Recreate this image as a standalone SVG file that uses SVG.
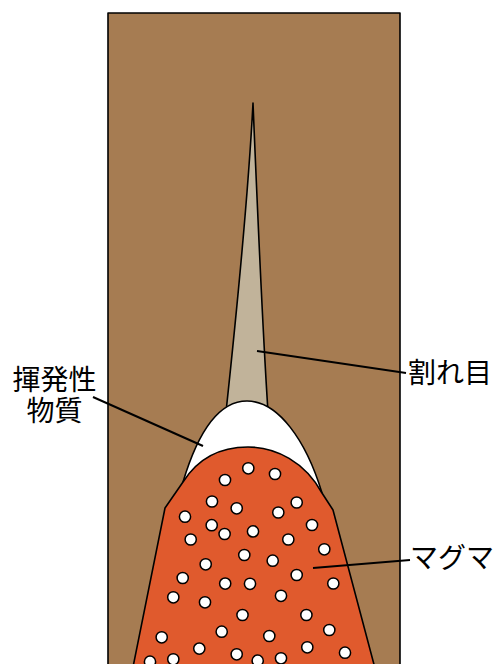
<svg xmlns="http://www.w3.org/2000/svg" width="497" height="664" viewBox="0 0 497 664">
  <style>
    .outline { stroke: #000; stroke-width: 1.6; stroke-linejoin: round; }
    .leader { stroke: #000; stroke-width: 2; fill: none; }
    .bubble { fill: #fff; stroke: #000; stroke-width: 1.5; }
    .label { font-family: "Noto Sans CJK JP", "Noto Sans", sans-serif; font-size: 28px; fill: #000; }
  </style>
  <defs>
    <circle id="b" r="5.6" class="bubble"/>
  </defs>

  <rect width="497" height="664" fill="#fff"/>

  <!-- bedrock -->
  <g id="rock">
    <rect x="108" y="13" width="292" height="660" fill="#a67c52" class="outline"/>
  </g>

  <!-- crack rising from the dome -->
  <g id="crack">
    <path d="M253,103 C249,180 238,300 226,412 L268,412 C262,320 257,200 253,103 Z" fill="#c1b39a" class="outline"/>
  </g>

  <!-- volatile cap above magma -->
  <g id="volatile">
    <path d="M183,482 C198,432 218,401 247,401 C278,401 306,440 322,493 Z" fill="#fff" class="outline"/>
  </g>

  <!-- magma body -->
  <g id="magma">
    <path d="M183,482 C200,455 224,447 248,447 C276,447 305,462 322,493 L333,510 L376,672 L132,672 L165,508 Z" fill="#e05a2d" class="outline"/>
    <g id="bubbles">
      <use href="#b" x="248.3" y="468.3"/>
      <use href="#b" x="275" y="474"/>
      <use href="#b" x="225" y="480"/>
      <use href="#b" x="212" y="501.5"/>
      <use href="#b" x="236.7" y="508.3"/>
      <use href="#b" x="296.7" y="502.5"/>
      <use href="#b" x="278.3" y="512.5"/>
      <use href="#b" x="185" y="516.7"/>
      <use href="#b" x="211.7" y="525.2"/>
      <use href="#b" x="224.6" y="534"/>
      <use href="#b" x="253" y="531.4"/>
      <use href="#b" x="312" y="525"/>
      <use href="#b" x="190.7" y="539.5"/>
      <use href="#b" x="288.3" y="539.5"/>
      <use href="#b" x="324.3" y="549.3"/>
      <use href="#b" x="244.3" y="555"/>
      <use href="#b" x="272.7" y="560.7"/>
      <use href="#b" x="205.7" y="564.3"/>
      <use href="#b" x="182.7" y="578"/>
      <use href="#b" x="296.7" y="575"/>
      <use href="#b" x="225.2" y="583.6"/>
      <use href="#b" x="250" y="583.8"/>
      <use href="#b" x="333.3" y="583.5"/>
      <use href="#b" x="173.3" y="597.3"/>
      <use href="#b" x="205" y="602.3"/>
      <use href="#b" x="281" y="595.8"/>
      <use href="#b" x="242.5" y="615"/>
      <use href="#b" x="306.4" y="615"/>
      <use href="#b" x="221.7" y="631.7"/>
      <use href="#b" x="329.3" y="630"/>
      <use href="#b" x="161.7" y="637.3"/>
      <use href="#b" x="269.3" y="636"/>
      <use href="#b" x="199.3" y="648.6"/>
      <use href="#b" x="307.3" y="647.3"/>
      <use href="#b" x="236.7" y="654.3"/>
      <use href="#b" x="345" y="652.7"/>
      <use href="#b" x="150" y="661.7"/>
      <use href="#b" x="173.3" y="659.3"/>
      <use href="#b" x="257.7" y="660.7"/>
      <use href="#b" x="281" y="658.3"/>
    </g>
  </g>

  <!-- leader lines -->
  <g id="connectors">
    <line x1="93" y1="397" x2="203" y2="446" class="leader"/>
    <line x1="257" y1="351" x2="406" y2="373" class="leader"/>
    <line x1="313" y1="568" x2="410" y2="560" class="leader"/>
  </g>

  <!-- labels -->
  <g id="label-volatile">
    <text class="label" x="54.5" y="390" text-anchor="middle">揮発性</text>
    <text class="label" x="54.5" y="421" text-anchor="middle">物質</text>
  </g>
  <g id="label-crack">
    <text class="label" x="408" y="383">割れ目</text>
  </g>
  <g id="label-magma">
    <text class="label" x="410" y="568">マグマ</text>
  </g>
</svg>
